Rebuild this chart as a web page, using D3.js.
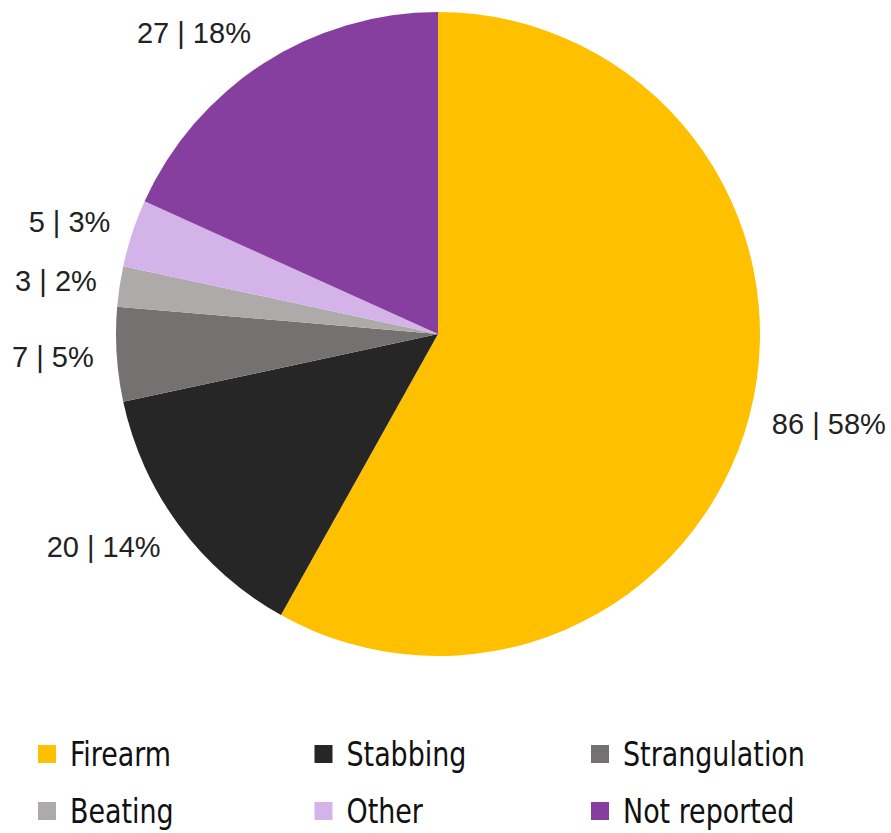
<!DOCTYPE html>
<html><head><meta charset="utf-8">
<script src="https://cdn.jsdelivr.net/npm/d3@7"></script>
<style>html,body{margin:0;padding:0;background:#fff;}svg{display:block;}</style>
</head><body>
<svg id="chart" width="891" height="833"></svg>
<script>
const categories = ["Firearm","Stabbing","Strangulation","Beating","Other","Not reported"];
const counts = [86,20,7,3,5,27];
const percents = [58,14,5,2,3,18];
const colors = ["#FFC000","#262626","#767171","#AEAAAA","#D4B3E8","#863F9F"];

const svg = d3.select("#chart");
const cx = 438, cy = 334, r = 322, lr = 345;
const data = categories.map((c,i)=>({name:c,count:counts[i],pct:percents[i],color:colors[i]}));
const pie = d3.pie().value(d=>d.count).sort(null);
const arc = d3.arc().innerRadius(0).outerRadius(r);
const arcs = pie(data);
const g = svg.append("g").attr("transform",`translate(${cx},${cy})`);
g.selectAll("path").data(arcs).join("path").attr("d",arc).attr("fill",d=>d.data.color);

g.selectAll("text.lbl").data(arcs).join("text").attr("class","lbl")
  .each(function(d){
    const a = (d.startAngle+d.endAngle)/2;
    const x = lr*Math.sin(a), y = -lr*Math.cos(a);
    const yc = y - 13*Math.cos(a);
    d3.select(this).attr("x",x).attr("y",yc)
      .attr("text-anchor", Math.sin(a)>=0?"start":"end")
      .attr("dominant-baseline","central");
  })
  .attr("font-family","'Liberation Sans', Arial, sans-serif")
  .attr("font-size",29).attr("fill","#222")
  .text(d=>`${d.data.count} | ${d.data.pct}%`);

const lx = d3.scalePoint().domain([0,1,2]).range([38,591]);
const ly = d3.scalePoint().domain([0,1]).range([745,802]);
const leg = svg.append("g");
data.forEach((d,i)=>{
  const col=i%3,row=Math.floor(i/3);
  const gg = leg.append("g").attr("transform",`translate(${lx(col)},${ly(row)})`);
  gg.append("rect").attr("width",18).attr("height",18).attr("fill",d.color);
  gg.append("text").attr("transform","translate(32,9) scale(0.88,1)")
    .attr("dominant-baseline","central")
    .attr("font-family","'Liberation Sans Narrow', 'DejaVu Sans Condensed', sans-serif")
    .attr("font-size",34).attr("fill","#111").text(d.name);
});
</script>
</body></html>
